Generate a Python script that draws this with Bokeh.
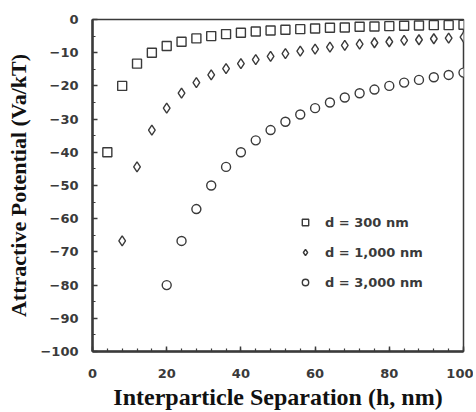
from bokeh.plotting import figure
from bokeh.models import Legend, LegendItem, Range1d, FixedTicker
from bokeh.embed import file_html
from bokeh.resources import INLINE

# Data
h_300 = [4, 8, 12, 16, 20, 24, 28, 32, 36, 40, 44, 48, 52, 56, 60, 64, 68, 72, 76, 80, 84, 88, 92, 96, 100]
va_300 = [-40, -20, -13.3, -10, -8, -6.7, -5.7, -5, -4.4, -4, -3.6, -3.3, -3.1, -2.9, -2.7, -2.5,
          -2.4, -2.2, -2.1, -2, -1.9, -1.8, -1.7, -1.7, -1.6]

h_1000 = [8, 12, 16, 20, 24, 28, 32, 36, 40, 44, 48, 52, 56, 60, 64, 68, 72, 76, 80, 84, 88, 92, 96, 100]
va_1000 = [-66.7, -44.4, -33.3, -26.7, -22.2, -19, -16.7, -14.8, -13.3, -12.1, -11.1, -10.3, -9.5,
           -8.9, -8.3, -7.8, -7.4, -7, -6.7, -6.3, -6.1, -5.8, -5.6, -5.3]

h_3000 = [20, 24, 28, 32, 36, 40, 44, 48, 52, 56, 60, 64, 68, 72, 76, 80, 84, 88, 92, 96, 100]
va_3000 = [-80, -66.7, -57.1, -50, -44.4, -40, -36.4, -33.3, -30.8, -28.6, -26.7, -25, -23.5,
           -22.2, -21.1, -20, -19, -18.2, -17.4, -16.7, -16]

labels = ["d = 300 nm", "d = 1,000 nm", "d = 3,000 nm"]
x_ticks = [0, 20, 40, 60, 80, 100]
y_ticks = [0, -10, -20, -30, -40, -50, -60, -70, -80, -90, -100]

ink = "#3a3a3a"

p = figure(frame_width=371, frame_height=332, output_backend="svg", toolbar_location=None,
           x_range=Range1d(0, 100), y_range=Range1d(-100, 0),
           min_border_left=92, min_border_top=19, min_border_right=10, min_border_bottom=58,
           background_fill_color="white", border_fill_color="white")

p.xgrid.visible = False
p.ygrid.visible = False
p.outline_line_color = ink
p.outline_line_width = 1.5

for ax in (p.xaxis, p.yaxis):
    ax.axis_line_color = ink
    ax.axis_line_width = 2.5
    ax.major_tick_line_color = ink
    ax.minor_tick_line_color = ink
    ax.major_tick_line_width = 1.5
    ax.minor_tick_line_width = 1.2
    ax.major_tick_in = 5
    ax.major_tick_out = 0
    ax.minor_tick_in = 3
    ax.minor_tick_out = 0
    ax.major_label_text_font = "DejaVu Sans"
    ax.major_label_text_font_style = "bold"
    ax.major_label_text_font_size = "13px"
    ax.major_label_text_color = "#3a3a3a"
    ax.axis_label_text_font = "Liberation Serif"
    ax.axis_label_text_font_style = "bold"
    ax.axis_label_text_color = "#111111"

p.xaxis.axis_label_text_font_size = "24px"
p.yaxis.axis_label_text_font_size = "22px"
p.xaxis.ticker = FixedTicker(ticks=x_ticks, minor_ticks=list(range(0, 101, 4)))
p.yaxis.ticker = FixedTicker(ticks=y_ticks, minor_ticks=list(range(-100, 1, 5)))
p.xaxis.major_label_standoff = 17
p.yaxis.major_label_standoff = 14
p.xaxis.axis_label = "Interparticle Separation (h, nm)"
p.yaxis.axis_label = "Attractive Potential (Va/kT)"
p.xaxis.axis_label_standoff = 3
p.yaxis.axis_label_standoff = 6

r1 = p.scatter(h_300, va_300, marker="square", size=9, fill_color="white",
               line_color=ink, line_width=1.4)
r2 = p.scatter(h_1000, va_1000, marker="diamond", size=10, fill_color="white",
               line_color=ink, line_width=1.4)
r3 = p.scatter(h_3000, va_3000, marker="circle", size=9, fill_color="white",
               line_color=ink, line_width=1.4)

legend = Legend(items=[LegendItem(label=labels[0], renderers=[r1]),
                       LegendItem(label=labels[1], renderers=[r2]),
                       LegendItem(label=labels[2], renderers=[r3])],
                location=(205, 59), border_line_color=None, background_fill_alpha=0,
                padding=0, margin=0, spacing=10, glyph_width=16, glyph_height=20,
                label_height=20, label_standoff=12,
                label_text_font="DejaVu Sans", label_text_font_style="bold",
                label_text_font_size="13px", label_text_color="#3a3a3a")
p.add_layout(legend, "center")

open("out.html", "w").write(file_html(p, INLINE))
